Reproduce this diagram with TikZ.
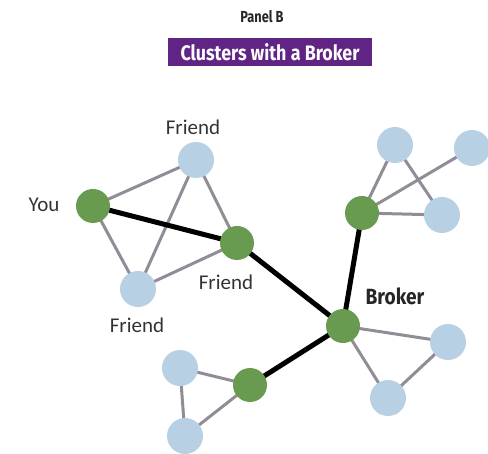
\documentclass[tikz,border=0pt]{standalone}
\usepackage{fontspec}
\usetikzlibrary{backgrounds}
\setmainfont{Carlito}
\newfontfamily\condfont[FakeStretch=0.8]{Fira Sans}
\newfontfamily\bandfont[FakeStretch=0.85]{Fira Sans}
\newfontfamily\brokerfont[FakeStretch=0.87]{Fira Sans}
\definecolor{hubgreen}{RGB}{104,154,80}
\definecolor{leafblue}{RGB}{184,208,228}
\definecolor{weaktie}{RGB}{146,140,150}
\definecolor{bandpurple}{RGB}{96,36,132}
\tikzset{
  hub/.style={circle, fill=hubgreen, minimum size=34pt, inner sep=0pt},
  leaf/.style={circle, fill=leafblue, minimum size=36pt, inner sep=0pt},
  weak/.style={draw=weaktie, line width=3pt},
  strong/.style={draw=black, line width=5pt},
  lbl/.style={font=\fontsize{21}{22}\selectfont, text=black!80, inner sep=0pt},
}
\begin{document}
\begin{tikzpicture}[x=1pt, y=-1pt]
\useasboundingbox (0,0) rectangle (488,454);

% heading
\node[font=\condfont\bfseries\fontsize{16}{18}\selectfont, text=black!85] (panel) at (262,17) {Panel B};
\node[fill=bandpurple, text=white, font=\bandfont\bfseries\fontsize{21}{22}\selectfont,
      minimum width=204pt, minimum height=28pt, inner sep=0pt] (band) at (270,52) {Clusters with a Broker};

% nodes
\node[hub]  (you)  at (93,206)  {};
\node[leaf] (ft)   at (196,160) {};
\node[hub]  (fm)   at (237,243) {};
\node[leaf] (fb)   at (138,289) {};
\node[hub]  (brk)  at (343,326) {};
\node[hub]  (ug)   at (362,213) {};
\node[leaf] (ut)   at (395,145) {};
\node[leaf] (ur)   at (472,148) {};
\node[leaf] (um)   at (442,215) {};
\node[leaf] (rt)   at (448,342) {};
\node[leaf] (rb)   at (388,398) {};
\node[hub]  (lg)   at (250,385) {};
\node[leaf] (lt)   at (180,368) {};
\node[leaf] (lb)   at (185,436) {};

% labels
\node[lbl] (tft) at (193,127) {Friend};
\node[lbl] (tyou) at (44,205) {You};
\node[lbl] (tfm) at (226,282) {Friend};
\node[lbl] (tfb) at (137,325) {Friend};
\node[font=\brokerfont\bfseries\fontsize{22}{24}\selectfont, text=black!85, inner sep=0pt] (tbrk) at (395,296) {Broker};

% ties, drawn beneath the circles
\begin{scope}[on background layer]
  \draw[weak] (you.center) -- (ft.center);
  \draw[weak] (you.center) -- (fb.center);
  \draw[weak] (ft.center) -- (fb.center);
  \draw[weak] (ft.center) -- (fm.center);
  \draw[weak] (fb.center) -- (fm.center);
  \draw[weak] (ug.center) -- (ut.center);
  \draw[weak] (ug.center) -- (ur.center);
  \draw[weak] (ug.center) -- (um.center);
  \draw[weak] (ut.center) -- (um.center);
  \draw[weak] (brk.center) -- (rt.center);
  \draw[weak] (brk.center) -- (rb.center);
  \draw[weak] (rt.center) -- (rb.center);
  \draw[weak] (lg.center) -- (lt.center);
  \draw[weak] (lg.center) -- (lb.center);
  \draw[weak] (lt.center) -- (lb.center);
  \draw[strong] (you.center) -- (fm.center);
  \draw[strong] (fm.center) -- (brk.center);
  \draw[strong] (brk.center) -- (ug.center);
  \draw[strong] (brk.center) -- (lg.center);
\end{scope}
\end{tikzpicture}
\end{document}
